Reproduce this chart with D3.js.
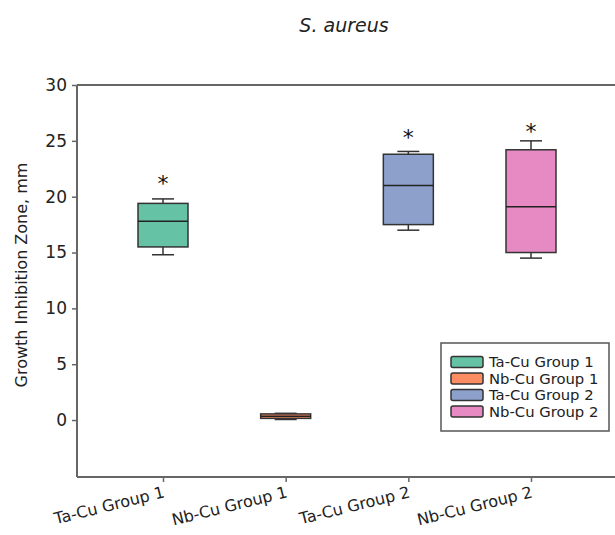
<!DOCTYPE html>
<html>
<head>
<meta charset="utf-8">
<script src="https://cdn.jsdelivr.net/npm/d3@7"></script>
<style>
  body { margin: 0; background: #fff; }
  svg { display: block; }
  text { font-family: "DejaVu Sans", Verdana, sans-serif; }
</style>
</head>
<body>
<div id="chart"></div>
<script>
// data (mm)
var groups = ["Ta-Cu Group 1", "Nb-Cu Group 1", "Ta-Cu Group 2", "Nb-Cu Group 2"];
var whiskerLow  = [14.8, 0.05, 17.0, 14.5];
var boxLow      = [15.5, 0.15, 17.5, 15.0];
var medians     = [17.8, 0.35, 21.0, 19.1];
var boxHigh     = [19.4, 0.55, 23.8, 24.2];
var whiskerHigh = [19.8, 0.6, 24.05, 25.0];
// significance markers (* above boxes), y value of the star
var starY = [21.7, null, 25.8, 26.3];
var yTicks = [0, 5, 10, 15, 20, 25, 30];
var colors = d3.schemeSet2.slice(0, 4);

var width = 615, height = 535;
var margin = {top: 85, right: 0, bottom: 58, left: 77};
var font = "'DejaVu Sans', Verdana, sans-serif";

var svg = d3.select("#chart")
  .append("svg")
  .attr("width", width)
  .attr("height", height);

var y = d3.scaleLinear()
  .domain([-5.1, 30])
  .range([height - margin.bottom, margin.top]);

var x = d3.scalePoint()
  .domain(groups)
  .range([163, 531]);

var boxW = 50, capW = 22;

// title
svg.append("text")
  .attr("x", 344)
  .attr("y", 32)
  .attr("text-anchor", "middle")
  .attr("font-size", 19)
  .attr("font-style", "italic")
  .attr("fill", "#222")
  .text("S. aureus");

// frame: top line
svg.append("line")
  .attr("x1", margin.left).attr("x2", width)
  .attr("y1", y(30)).attr("y2", y(30))
  .attr("stroke", "#666").attr("stroke-width", 2);

// y axis
var yAxis = svg.append("g")
  .attr("transform", `translate(${margin.left},0)`)
  .call(d3.axisLeft(y).tickValues(yTicks).tickSize(5).tickPadding(5));
yAxis.attr("font-family", font);
yAxis.select(".domain")
  .attr("d", `M0,${y(30)}V${height - margin.bottom}`)
  .attr("stroke", "#666").attr("stroke-width", 2);
yAxis.selectAll(".tick line").attr("stroke", "#666").attr("stroke-width", 1.5);
yAxis.selectAll(".tick text").attr("font-size", 17).attr("fill", "#222");

// x axis
var xAxis = svg.append("g")
  .attr("transform", `translate(0,${height - margin.bottom})`)
  .call(d3.axisBottom(x).tickSize(5));
xAxis.attr("font-family", font);
xAxis.select(".domain")
  .attr("d", `M${margin.left},0H${width}`)
  .attr("stroke", "#666").attr("stroke-width", 2);
xAxis.selectAll(".tick line").attr("stroke", "#666").attr("stroke-width", 1.5);
xAxis.selectAll(".tick text")
  .attr("font-size", 16)
  .attr("fill", "#222")
  .attr("text-anchor", "end")
  .attr("y", 0)
  .attr("dy", 0)
  .attr("transform", "translate(2,20) rotate(-14)");

// y label
svg.append("text")
  .attr("transform", `translate(27,275) rotate(-90)`)
  .attr("text-anchor", "middle")
  .attr("font-size", 16)
  .attr("fill", "#222")
  .text("Growth Inhibition Zone, mm");

// boxes
var rows = groups.map((g, i) => ({
  g: g, lo: whiskerLow[i], q1: boxLow[i], med: medians[i], q3: boxHigh[i], hi: whiskerHigh[i], c: colors[i], star: starY[i]
}));

var box = svg.selectAll("g.box")
  .data(rows)
  .join("g")
  .attr("class", "box")
  .attr("transform", d => `translate(${x(d.g)},0)`);

box.append("line")
  .attr("y1", d => y(d.lo)).attr("y2", d => y(d.q1))
  .attr("stroke", "#333").attr("stroke-width", 1.5);
box.append("line")
  .attr("y1", d => y(d.q3)).attr("y2", d => y(d.hi))
  .attr("stroke", "#333").attr("stroke-width", 1.5);
box.append("line")
  .attr("x1", -capW / 2).attr("x2", capW / 2)
  .attr("y1", d => y(d.lo)).attr("y2", d => y(d.lo))
  .attr("stroke", "#333").attr("stroke-width", 1.5);
box.append("line")
  .attr("x1", -capW / 2).attr("x2", capW / 2)
  .attr("y1", d => y(d.hi)).attr("y2", d => y(d.hi))
  .attr("stroke", "#333").attr("stroke-width", 1.5);
box.append("rect")
  .attr("x", -boxW / 2)
  .attr("width", boxW)
  .attr("y", d => y(d.q3))
  .attr("height", d => y(d.q1) - y(d.q3))
  .attr("fill", d => d.c)
  .attr("stroke", "#333").attr("stroke-width", 1.5);
box.append("line")
  .attr("x1", -boxW / 2).attr("x2", boxW / 2)
  .attr("y1", d => y(d.med)).attr("y2", d => y(d.med))
  .attr("stroke", "#222").attr("stroke-width", 1.5);

box.filter(d => d.star != null)
  .append("text")
  .attr("y", d => y(d.star) + 13)
  .attr("text-anchor", "middle")
  .attr("font-size", 22)
  .attr("fill", "#111")
  .text("*");

// legend
var lg = svg.append("g").attr("transform", "translate(441,343)");
lg.append("rect")
  .attr("width", 168).attr("height", 88)
  .attr("fill", "#fff")
  .attr("stroke", "#555").attr("stroke-width", 1.5);
var item = lg.selectAll("g.item")
  .data(rows)
  .join("g")
  .attr("class", "item")
  .attr("transform", (d, i) => `translate(10,${19 + i * 16.5})`);
item.append("rect")
  .attr("x", 0).attr("y", -5.5)
  .attr("width", 32).attr("height", 11)
  .attr("rx", 2)
  .attr("fill", d => d.c)
  .attr("stroke", "#333").attr("stroke-width", 1.5);
item.append("text")
  .attr("x", 38)
  .attr("dy", "0.36em")
  .attr("font-size", 14.8)
  .attr("fill", "#222")
  .text(d => d.g);
</script>
</body>
</html>
